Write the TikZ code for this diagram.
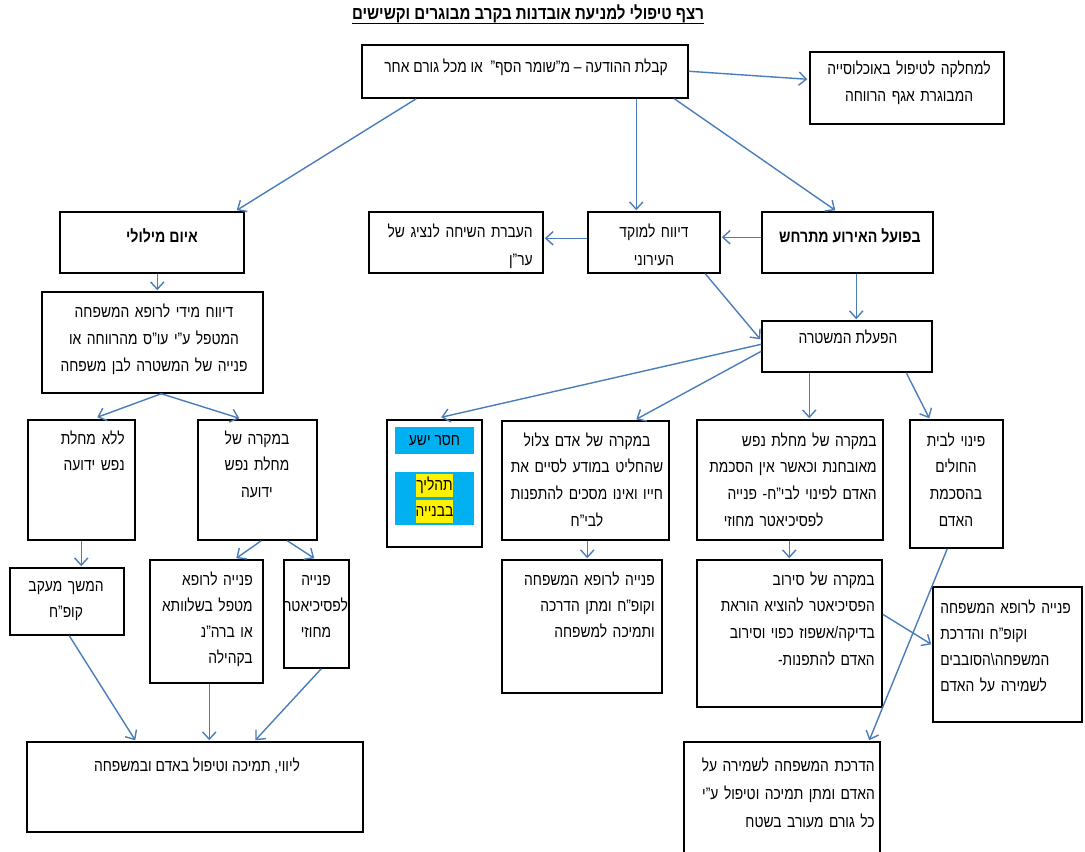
\documentclass[tikz,border=0pt]{standalone}
\usepackage{fontspec}
\setmainfont{Liberation Sans}[Script=Hebrew,FakeStretch=0.83]
\usetikzlibrary{arrows.meta,fit,calc}
\TeXXeTstate=1
\newcommand\RL[1]{\beginR#1\endR}
\newcommand\hlite[1]{{\fboxsep=0pt\colorbox{yellow}{\rule[-5pt]{0pt}{17pt}\RL{#1}}}}
\definecolor{arrblue}{RGB}{74,126,187}
\definecolor{cyanb}{RGB}{0,176,240}
\tikzset{
  box/.style={draw=black, line width=1.1pt, inner sep=0pt, rectangle},
  txt/.style={inner sep=0pt, font=\fontsize{12.5}{20}\selectfont},
  boldtxt/.style={inner sep=0pt, font=\fontsize{12.8}{20}\selectfont\bfseries},
  arr/.style={draw=arrblue, line width=1.05pt, -{Straight Barb[length=5.5pt,width=10pt]}},
}
\begin{document}
\begin{tikzpicture}[x=0.75pt,y=-0.75pt]
\useasboundingbox (0,0) rectangle (1085,852);
\fill[white] (0,0) rectangle (1085,852);

% title
\node[inner sep=0pt, font=\fontsize{13.6}{16}\selectfont\bfseries, anchor=base] (title) at (528,20) {\RL{רצף טיפולי למניעת אובדנות בקרב מבוגרים וקשישים}};
\draw[line width=0.9pt] ([yshift=-2.5pt]title.base west) -- ([yshift=-2.5pt]title.base east);

% boxes
\node[box, fit={(362,45)(688,98)}] (A) {};
\node[box, fit={(810,52)(1004,124)}] (B) {};
\node[box, fit={(60,212)(244,273)}] (C) {};
\node[box, fit={(42,292)(263,393)}] (D) {};
\node[box, fit={(369,212)(543,273)}] (E) {};
\node[box, fit={(588,212)(720,273)}] (F) {};
\node[box, fit={(762,212)(933,273)}] (G) {};
\node[box, fit={(762,321)(932,372)}] (H) {};
\node[box, fit={(387,420)(482,547)}] (I) {};
\node[box, fit={(502,421)(669,540)}] (J) {};
\node[box, fit={(697,420)(883,540)}] (K) {};
\node[box, fit={(910,420)(1003,548)}] (R) {};
\node[box, fit={(28,420)(135,540)}] (L1) {};
\node[box, fit={(198,420)(317,540)}] (L2) {};
\node[box, fit={(10,568)(124,635)}] (L3) {};
\node[box, fit={(150,560)(263,683)}] (L4) {};
\node[box, fit={(284,560)(349,668)}] (L5) {};
\node[box, fit={(27,742)(363,832)}] (M) {};
\node[box, fit={(502,560)(662,693)}] (N) {};
\node[box, fit={(697,560)(882,707)}] (O) {};
\node[box, fit={(933,587)(1082,722)}] (P) {};
\node[box, fit={(684,742)(880,860)}] (Q) {};

% texts
\node[txt, anchor=base] (At) at (526,73) {\RL{קבלת ההודעה – מ"שומר הסף"\ \ או מכל גורם אחר}};
\node[txt, anchor=base, text width=140pt, align=center] (Bt) at (909,75) {\RL{למחלקה לטיפול באוכלוסייה}\\\RL{המבוגרת אגף הרווחה}};
\node[boldtxt, anchor=base] (Ct) at (162,243) {\RL{איום מילולי}};
\node[txt, anchor=base, text width=160pt, align=center, font=\fontsize{12.5}{20.6}\selectfont] (Dt) at (154,317) {\RL{דיווח מידי לרופא המשפחה}\\\RL{המטפל ע"י עו"ס מהרווחה או}\\\RL{פנייה של המשטרה לבן משפחה}};
\node[txt, anchor=base east, text width=125pt, align=right, font=\fontsize{12.5}{21}\selectfont] (Et) at (533,238) {\RL{העברת השיחה לנציג של}\\\RL{ער"ן}};
\node[txt, anchor=base, text width=95pt, align=center, font=\fontsize{12.5}{21}\selectfont] (Ft) at (654,238) {\RL{דיווח למוקד}\\\RL{העירוני}};
\node[boldtxt, anchor=base] (Gt) at (850,243) {\RL{בפועל האירוע מתרחש}};
\node[txt, anchor=base] (Ht) at (848,343) {\RL{הפעלת המשטרה}};

\node[txt, fill=cyanb, minimum width=59.25pt, minimum height=20.25pt] (I1) at (434.5,440.5) {\RL{חסר ישע}};
\node[txt, fill=cyanb, minimum width=59.25pt, minimum height=39.75pt, align=center, font=\fontsize{12.5}{19.5}\selectfont] (I2) at (434.5,498.5) {\hlite{תהליך}\\\hlite{בבנייה}};

\node[txt, anchor=base, text width=125pt, align=center] (Jt) at (587,446) {\RL{במקרה של אדם צלול}\\\RL{שהחליט במודע לסיים את}\\\RL{חייו ואינו מסכים להתפנות}\\\RL{לבי"ח}};
\node[txt, anchor=base east, text width=138pt, align=right] (Kt) at (877,446) {\RL{במקרה של מחלת נפש}\\\RL{מאובחנת וכאשר אין הסכמת}\\\RL{האדם לפינוי לבי"ח- פנייה}\\\RL{לפסיכיאטר מחוזי}\kern40pt};
\node[txt, anchor=base, text width=68pt, align=center] (Rt) at (956,446) {\RL{פינוי לבית}\\\RL{החולים}\\\RL{בהסכמת}\\\RL{האדם}};

\node[txt, anchor=base east, text width=78pt, align=right] (L1t) at (125,444) {\RL{ללא מחלת}\\\RL{נפש ידועה}};
\node[txt, anchor=base, text width=88pt, align=center] (L2t) at (257,444) {\RL{במקרה של}\\\RL{מחלת נפש}\\\RL{ידועה}};
\node[txt, anchor=base, text width=84pt, align=center] (L3t) at (66,591) {\RL{המשך מעקב}\\\RL{קופ"ח}};
\node[txt, anchor=base east, text width=84pt, align=right, font=\fontsize{12.5}{19.5}\selectfont] (L4t) at (253,585) {\RL{פנייה לרופא}\\\RL{מטפל בשלוותא}\\\RL{או ברה"נ}\\\RL{בקהילה}};
\node[txt, anchor=base, text width=60pt, align=center, font=\fontsize{12.5}{19.5}\selectfont] (L5t) at (316,585) {\RL{פנייה}\\\RL{לפסיכיאטר}\\\RL{מחוזי}};
\node[txt, anchor=base] (Mt) at (197,771) {\RL{ליווי, תמיכה וטיפול באדם ובמשפחה}};
\node[txt, anchor=base east, text width=115pt, align=right, font=\fontsize{12.5}{19.5}\selectfont] (Nt) at (655,585) {\RL{פנייה לרופא המשפחה}\\\RL{וקופ"ח ומתן הדרכה}\\\RL{ותמיכה למשפחה}};
\node[txt, anchor=base east, text width=138pt, align=right] (Ot) at (875,585) {\RL{במקרה של סירוב}\\\RL{הפסיכיאטר להוציא הוראת}\\\RL{בדיקה/אשפוז כפוי וסירוב}\\\RL{האדם להתפנות-}};
\node[txt, anchor=base west, text width=110pt, align=left, font=\fontsize{12.5}{19.5}\selectfont] (Pt) at (940,613) {\RL{פנייה לרופא המשפחה}\\\RL{וקופ"ח והדרכת}\\\RL{המשפחה\textbackslash הסובבים}\\\RL{לשמירה על האדם}};
\node[txt, anchor=base east, text width=145pt, align=right, font=\fontsize{12.5}{21}\selectfont] (Qt) at (875,771) {\RL{הדרכת המשפחה לשמירה על}\\\RL{האדם ומתן תמיכה וטיפול ע"י}\\\RL{כל גורם מעורב בשטח}};

% connectors
\coordinate (Dj) at ($(D.south west)+(120,0)$);
\draw[arr] ($(A.north east)+(0,27)$) -- ($(B.north west)+(-2,28)$);
\draw[arr] ($(A.south west)+(55,0)$) -- ($(C.north east)+(-8,-1)$);
\draw[arr] ($(A.south west)+(275,0)$) -- ($(F.north west)+(49,-1)$);
\draw[arr] ($(A.south west)+(313,0)$) -- ($(G.north west)+(74,-1)$);
\draw[arr] ($(G.north west)+(0,26)$) -- ($(F.north east)+(1,26)$);
\draw[arr] ($(F.north west)+(0,27)$) -- ($(E.north east)+(1,27)$);
\draw[arr] ($(C.south west)+(98,0)$) -- ($(D.north west)+(116,-1)$);
\draw[arr] ($(G.south west)+(95,0)$) -- ($(H.north west)+(95,-1)$);
\draw[arr] ($(F.south west)+(118,0)$) -- ($(H.north west)+(-1,19)$);
\draw[arr] (Dj) -- ($(L1.north west)+(70,-2)$);
\draw[arr] (Dj) -- ($(L2.north west)+(42,-1)$);
\draw[arr] ($(H.north west)+(0,24)$) -- ($(I.north west)+(55,-2)$);
\draw[arr] ($(H.north west)+(0,31)$) -- ($(J.north west)+(135,-1)$);
\draw[arr] ($(H.south west)+(48,0)$) -- ($(K.north west)+(113,-1)$);
\draw[arr] ($(H.south west)+(145,0)$) -- ($(R.north west)+(20,-1)$);
\draw[arr] ($(L1.south west)+(54,0)$) -- ($(L3.north west)+(72,-1)$);
\draw[arr] ($(L2.south west)+(64,0)$) -- ($(L4.north west)+(87,-1)$);
\draw[arr] ($(L2.south west)+(90,0)$) -- ($(L5.north west)+(31,-1)$);
\draw[arr] ($(L3.south west)+(60,0)$) -- ($(M.north west)+(109,-1)$);
\draw[arr] ($(L4.south west)+(60,0)$) -- ($(M.north west)+(183,-1)$);
\draw[arr] ($(L5.south west)+(38,0)$) -- ($(M.north west)+(229,-1)$);
\draw[arr] ($(J.south west)+(86,0)$) -- ($(N.north west)+(86,-1)$);
\draw[arr] ($(K.south west)+(93,0)$) -- ($(O.north west)+(93,-1)$);
\draw[arr] ($(O.north east)+(0,55)$) -- ($(P.north west)+(-1,58)$);
\draw[arr] ($(R.south west)+(38,0)$) -- ($(Q.north west)+(186,-1)$);
\end{tikzpicture}
\end{document}
